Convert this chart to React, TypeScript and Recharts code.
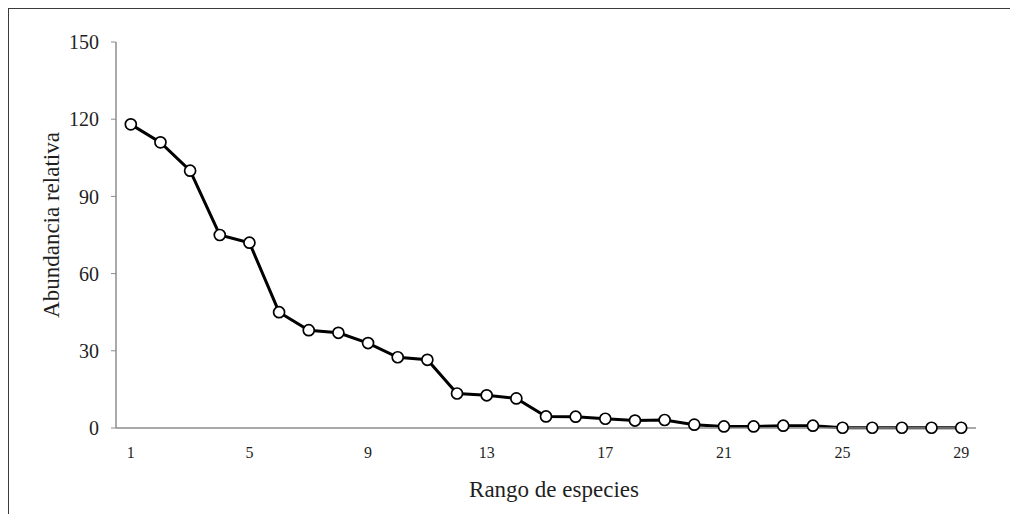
import React from 'react';
import { LineChart, Line, XAxis, YAxis, Label } from 'recharts';

// rank of species, 1..29
const ranks = [
  1, 2, 3, 4, 5, 6, 7, 8, 9, 10, 11, 12, 13, 14, 15,
  16, 17, 18, 19, 20, 21, 22, 23, 24, 25, 26, 27, 28, 29,
];

// relative abundance
const abundance = [
  118, 111, 100, 75, 72, 45, 38, 37, 33, 27.5, 26.5, 13.4, 12.7, 11.5, 4.5,
  4.4, 3.6, 2.9, 3.1, 1.3, 0.6, 0.6, 0.9, 0.9, 0.1, 0.1, 0.1, 0.1, 0.1,
];

const yTicks = [0, 30, 60, 90, 120, 150];

const FONT = '"Liberation Serif", "Times New Roman", serif';
const AXIS_GREY = '#8c8c8c';
const TEXT = '#1f1f1f';

const data = ranks.map((r, i) => ({ rank: r, value: abundance[i] }));

const YTitle = (props: any) => {
  const { viewBox } = props;
  const cx = 42;
  const cy = viewBox.y + viewBox.height / 2 - 10;
  return (
    <text
      x={cx}
      y={cy}
      transform={`rotate(-90 ${cx} ${cy})`}
      textAnchor="middle"
      dominantBaseline="central"
      fontFamily={FONT}
      fontSize={23}
      fill={TEXT}
    >
      Abundancia relativa
    </text>
  );
};

const XTitle = (props: any) => {
  const { viewBox } = props;
  const cx = viewBox.x + viewBox.width / 2 + 8;
  return (
    <text
      x={cx}
      y={480}
      textAnchor="middle"
      dominantBaseline="central"
      fontFamily={FONT}
      fontSize={23}
      fill={TEXT}
    >
      Rango de especies
    </text>
  );
};

export default function App() {
  return (
    <div
      style={{
        width: 1008,
        height: 505,
        borderTop: '3px solid #3a3a3a',
        borderLeft: '3px solid #3a3a3a',
        marginLeft: -2,
        marginTop: -2,
        background: '#fff',
      }}
    >
      <LineChart
        width={1008}
        height={505}
        data={data}
        margin={{ top: 33, right: 41, bottom: 0, left: 0 }}
      >
        <XAxis
          dataKey="rank"
          type="category"
          interval={3}
          padding={{ left: 14.8, right: 14.8 }}
          height={86}
          tickLine={false}
          tickSize={5}
          tickMargin={14}
          axisLine={{ stroke: AXIS_GREY, strokeWidth: 1.5 }}
          tick={{ fontFamily: FONT, fontSize: 16, fill: TEXT }}
        >
          <Label content={<XTitle />} />
        </XAxis>
        <YAxis
          type="number"
          domain={[0, 150]}
          ticks={yTicks}
          width={107}
          tickSize={5}
          tickMargin={12}
          tickLine={{ stroke: AXIS_GREY }}
          axisLine={{ stroke: AXIS_GREY, strokeWidth: 1.5 }}
          tick={{ fontFamily: FONT, fontSize: 20, fill: TEXT }}
        >
          <Label content={<YTitle />} />
        </YAxis>
        <Line
          type="linear"
          dataKey="value"
          stroke="#000"
          strokeWidth={3}
          dot={{ r: 5.5, fill: '#fff', stroke: '#000', strokeWidth: 1.7 }}
          isAnimationActive={false}
        />
      </LineChart>
    </div>
  );
}
